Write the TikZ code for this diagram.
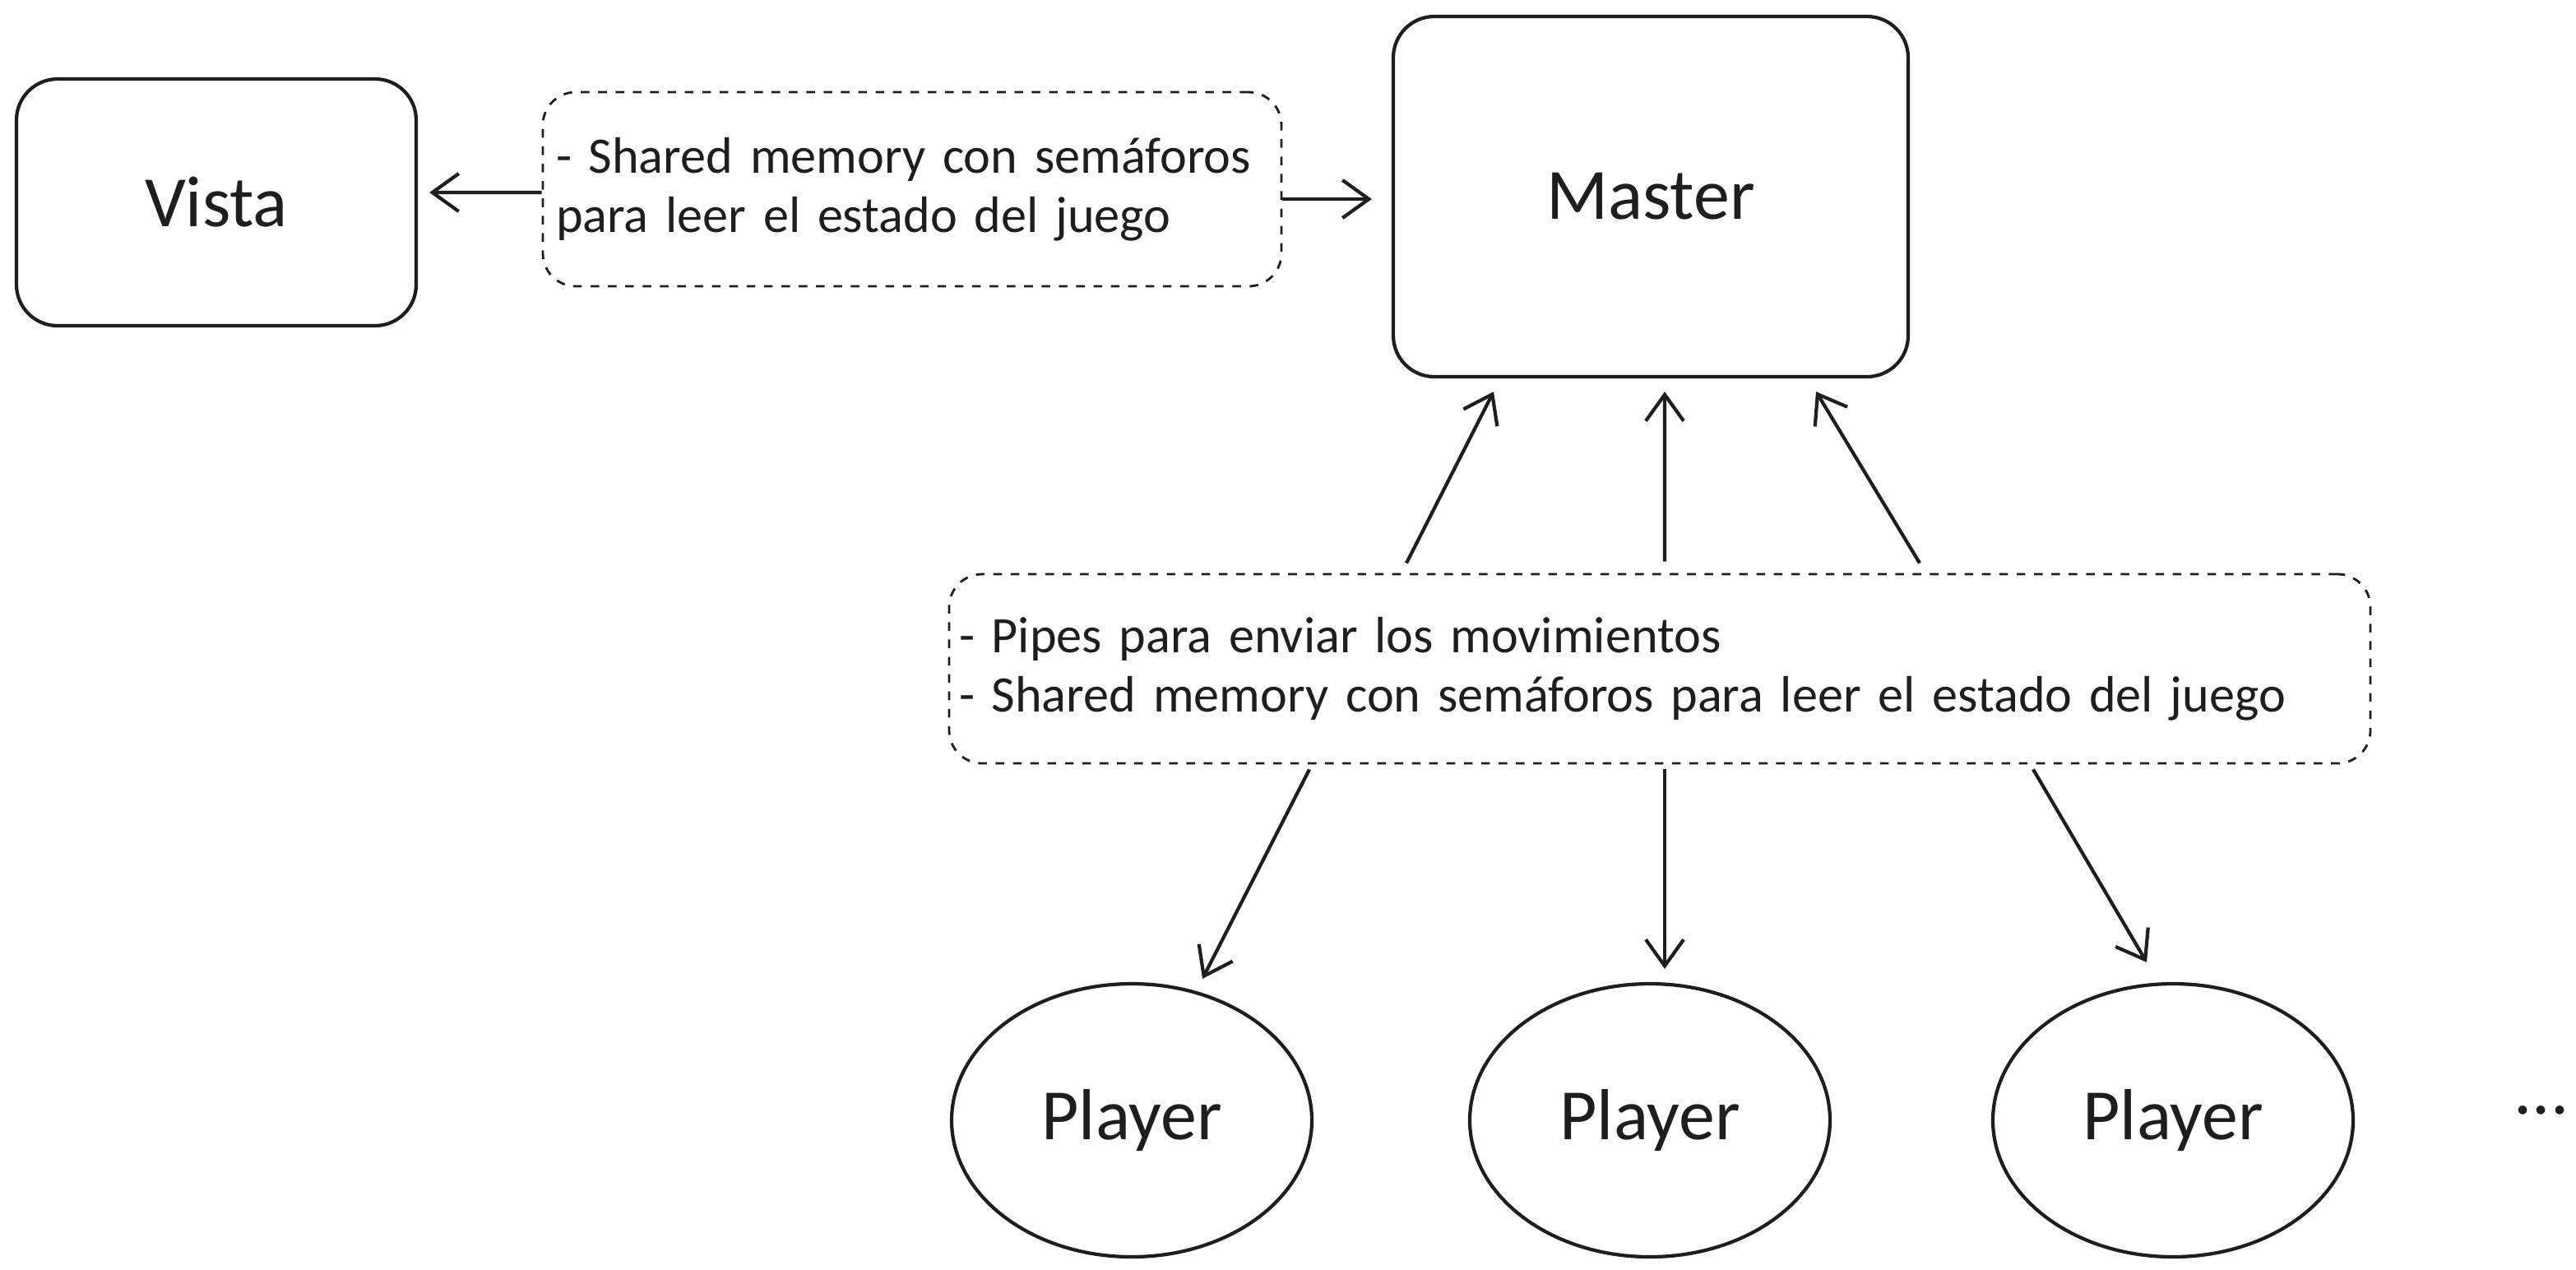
\documentclass[tikz,border=0pt]{standalone}
\usepackage{fontspec}
\setmainfont{Carlito}
\usetikzlibrary{shapes.geometric,arrows.meta,calc}
\definecolor{ink}{HTML}{1E1E1E}

\begin{document}
\begin{tikzpicture}[ink, line width=1.2pt]
    % `proc' is used for the Vista and Master boxes.
    % `note' is used for the dashed boxes holding the texts.
    % `player' is used for the ellipses at the bottom.
    \tikzstyle{proc} = [draw,rounded corners=5mm,font=\fontsize{25}{30}\selectfont]
    \tikzstyle{note} = [draw,dashed,line width=0.8pt,rounded corners=4mm,align=left,
                        font=\fontsize{17.7}{20.5}\selectfont,inner sep=0pt]
    \tikzstyle{player} = [draw,ellipse,inner sep=0pt,minimum width=4.38cm,
                          minimum height=3.32cm,font=\fontsize{25}{30}\selectfont]
    \tikzstyle{link} = [-{Straight Barb[length=3.2mm,width=4.6mm]},line width=1.2pt]
    %
    \useasboundingbox (0,0) rectangle (31.32,-15.43);
    \node[proc,minimum width=4.86cm,minimum height=3cm] (vista) at (2.63,-2.46) {Vista};
    \node[proc,minimum width=6.26cm,minimum height=4.38cm] (master) at (20.07,-2.39) {Master};
    \node[note,minimum width=8.98cm,minimum height=2.36cm,text width=8.66cm] (shared) at (11.09,-2.30)
      {- Shared memory con semáforos\\para leer el estado del juego};
    \node[note,minimum width=17.28cm,minimum height=2.30cm,text width=17.04cm] (pipes) at (20.18,-8.13)
      {- Pipes para enviar los movimientos\\- Shared memory con semáforos para leer el estado del juego};
    \node[player] (p1) at (13.76,-13.62) {Player};
    \node[player] (p2) at (20.06,-13.62) {Player};
    \node[player] (p3) at (26.42,-13.62) {Player};
    \node[font=\fontsize{25}{30}\selectfont] (more) at (30.90,-13.50) {...};
    %
    % Draw arrows.
    \draw[link] ([yshift=-0.04cm]shared.west) -- ([xshift=0.14cm,yshift=0.12cm]vista.east);
    \draw[link] ([yshift=-0.12cm]shared.east) -- ([xshift=-0.24cm,yshift=-0.03cm]master.west);
    \draw[link] ([xshift=-3.08cm,yshift=0.12cm]pipes.north) -- ([xshift=-1.91cm,yshift=-0.16cm]master.south);
    \draw[link] ([xshift=0.06cm,yshift=0.14cm]pipes.north) -- ([xshift=0.17cm,yshift=-0.16cm]master.south);
    \draw[link] ([xshift=3.16cm,yshift=0.12cm]pipes.north) -- ([xshift=2.01cm,yshift=-0.16cm]master.south);
    \draw[link] ([xshift=-4.26cm,yshift=-0.06cm]pipes.south) -- ([xshift=0.86cm,yshift=0.04cm]p1.north);
    \draw[link] ([xshift=0.06cm,yshift=-0.06cm]pipes.south) -- ([xshift=0.18cm,yshift=0.16cm]p2.north);
    \draw[link] ([xshift=4.54cm,yshift=-0.06cm]pipes.south) -- ([xshift=-0.32cm,yshift=0.24cm]p3.north);
\end{tikzpicture}
\end{document}
